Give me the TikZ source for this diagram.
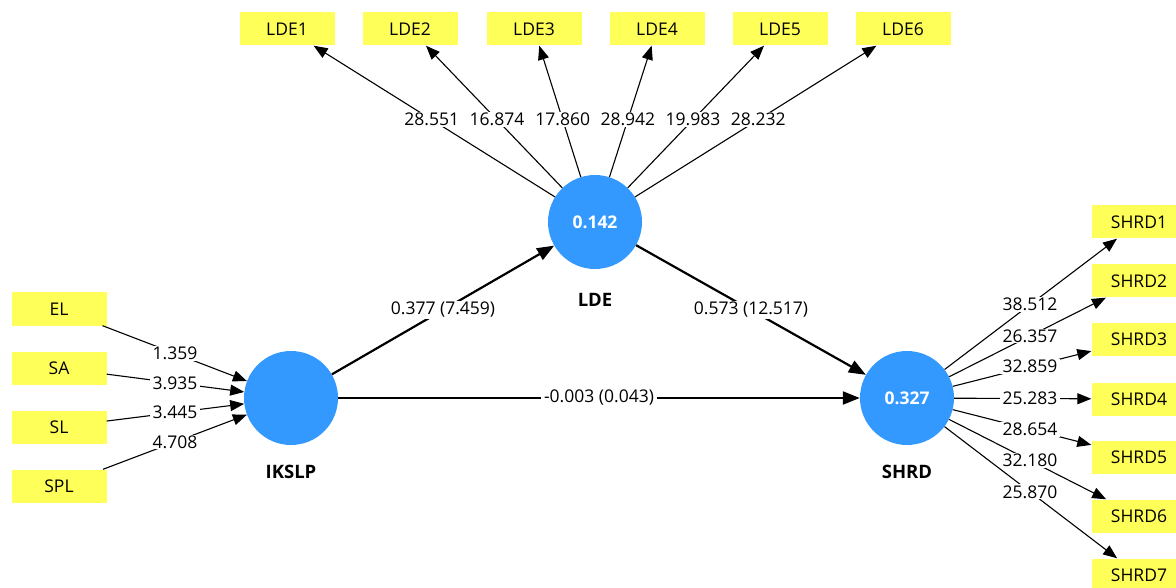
\documentclass[tikz,border=0pt]{standalone}
\usepackage{fontspec}
\setmainfont{Open Sans}
\usetikzlibrary{arrows.meta,calc}
\definecolor{indyellow}{RGB}{255,255,90}
\definecolor{latblue}{RGB}{51,153,255}
\newcommand\diagfont{\fontsize{17.5}{21}\selectfont}
\newcommand\namefont{\fontsize{18.5}{22}\selectfont}
\begin{document}
\begin{tikzpicture}[x=1pt,y=-1pt,
  indicator/.style={rectangle, fill=indyellow, minimum width=95pt, minimum height=33pt, inner sep=0pt, font=\diagfont},
  latent/.style={circle, fill=latblue, minimum size=94pt, inner sep=0pt, text=white, font=\diagfont\bfseries},
  lvname/.style={font=\namefont\bfseries},
  loading/.style={line width=1.1pt, -{Triangle[length=14pt,width=11pt]}},
  pathcoef/.style={line width=2.2pt, -{Triangle[length=17pt,width=13pt]}},
  coef/.style={fill=white, inner xsep=3pt, inner ysep=1pt, font=\diagfont},
]
\useasboundingbox (0,0) rectangle (1176,588);
\fill[white] (0,0) rectangle (1176,588);
\clip (0,0) rectangle (1176,588);

% latent variables
\node[latent] (ikslp) at (291,398) {};
\node[latent] (lde) at (595,222) {0.142};
\node[latent] (shrd) at (907,398) {0.327};
\node[lvname] (ikslpname) at (291,472) {IKSLP};
\node[lvname] (ldename) at (595,300) {LDE};
\node[lvname] (shrdname) at (907,472) {SHRD};

% indicators of LDE
\foreach \i/\x in {1/287,2/410,3/534,4/657,5/780,6/903}
  \node[indicator] (lde\i) at (\x,29) {LDE\i};
% indicators of IKSLP
\node[indicator] (el)  at (59,309) {EL};
\node[indicator] (sa)  at (59,368) {SA};
\node[indicator] (sl)  at (59,427) {SL};
\node[indicator] (spl) at (59,486) {SPL};
% indicators of SHRD
\foreach \i/\y in {1/222,2/281,3/339,4/399,5/457,6/516,7/575}
  \node[indicator] (shrd\i) at (1139,\y) {SHRD\i};

% outer loadings
\foreach \i in {1,...,6} \draw[loading] (lde) -- (lde\i);
\foreach \i in {1,...,7} \draw[loading] (shrd) -- (shrd\i);
\foreach \n in {el,sa,sl,spl} \draw[loading] (\n) -- (ikslp);

\foreach \i/\v in {1/28.551,2/16.874,3/17.860,4/28.942,5/19.983,6/28.232}
  \node[coef] (ldel\i) at ($(lde)!0.53!(lde\i)$) {\v};
\foreach \i/\v in {1/38.512,2/26.357,3/32.859,4/25.283,5/28.654,6/32.180,7/25.870}
  \node[coef] (shrdl\i) at ($(shrd)!0.53!(shrd\i)$) {\v};
\foreach \n/\v in {el/1.359,sa/3.935,sl/3.445,spl/4.708}
  \node[coef] (\n l) at ($(\n)!0.5!(ikslp)$) {\v};

% structural paths
\draw[pathcoef] (ikslp) -- (lde);
\draw[pathcoef] (lde) -- (shrd);
\draw[pathcoef] (ikslp) -- (shrd);
\node[coef] (p1) at ($(ikslp)!0.5!(lde)$) {0.377 (7.459)};
\node[coef] (p2) at ($(lde)!0.5!(shrd)$) {0.573 (12.517)};
\node[coef] (p3) at ($(ikslp)!0.5!(shrd)$) {-0.003 (0.043)};
\end{tikzpicture}
\end{document}
